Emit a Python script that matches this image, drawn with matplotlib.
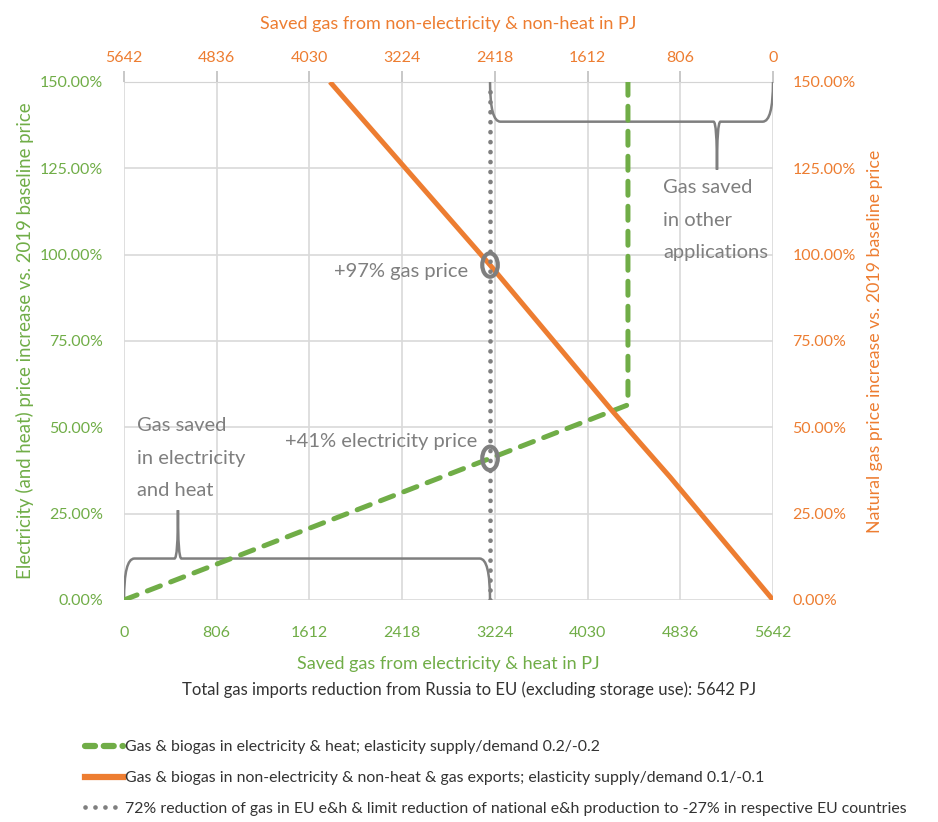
import matplotlib.pyplot as plt
import numpy as np
from matplotlib.path import Path
from matplotlib.patches import PathPatch, Ellipse
from matplotlib.ticker import PercentFormatter
from matplotlib.lines import Line2D

plt.rcParams['font.family'] = ['Lato', 'DejaVu Sans']

# --- data ---
total_pj = 5642
x_ticks = [0, 806, 1612, 2418, 3224, 4030, 4836, 5642]
y_ticks = [0, 25, 50, 75, 100, 125, 150]

elec_x = [0, 3182, 4381, 4381]
elec_y = [0, 41, 56.5, 150]

gas_x = [1791, 3182, 4251, 4486, 4747, 5642]
gas_y = [150, 97, 54.5, 45.5, 35.6, 0]

limit_x = 3182
gas_point = 97
elec_point = 41

labels = ["Gas & biogas in electricity & heat; elasticity supply/demand 0.2/-0.2",
          "Gas & biogas in non-electricity & non-heat & gas exports; elasticity supply/demand 0.1/-0.1",
          "72% reduction of gas in EU e&h & limit reduction of national e&h production to -27% in respective EU countries"]

green = '#70AD47'
orange = '#ED7D31'
grey = '#7F7F7F'

fig = plt.figure(figsize=(9.38, 8.22), dpi=100)
ax = fig.add_axes([0.1322, 0.2701, 0.6919, 0.6302])

ax.plot(elec_x, elec_y, color=green, lw=3.6, dashes=(2.8, 2.2), dash_capstyle='round', zorder=3)
ax.plot(gas_x, gas_y, color=orange, lw=3.6, solid_capstyle='butt', solid_joinstyle='round', zorder=3)
ax.plot([limit_x, limit_x], [0, 150], color=grey, lw=3.4, linestyle=(0, (0.01, 2.1)),
        dash_capstyle='round', zorder=4)

# circles at intersections
for yy in [gas_point, elec_point]:
    ax.add_patch(Ellipse((limit_x, yy), width=135, height=6.8, fill=False, ec=grey, lw=3.0, zorder=5))

# braces
def brace(x0, x1, xt, yb, yt, yend):
    verts = [(x0, yend), (x0, yb), (x0 + 90, yb), (xt - 30, yb), (xt, yb), (xt, yt),
             (xt, yb), (xt + 30, yb), (x1 - 90, yb), (x1, yb), (x1, yend)]
    codes = [Path.MOVETO, Path.CURVE3, Path.CURVE3, Path.LINETO, Path.CURVE3, Path.CURVE3,
             Path.CURVE3, Path.CURVE3, Path.LINETO, Path.CURVE3, Path.CURVE3]
    return Path(verts, codes)

ax.add_patch(PathPatch(brace(0, limit_x, 469, 12, 26, 0), fill=False, ec=grey, lw=1.8, zorder=2))
ax.add_patch(PathPatch(brace(limit_x, total_pj, 5155, 138.5, 124.6, 150), fill=False, ec=grey,
                       lw=1.8, zorder=2))

# annotations
ax.text(113, 41.1, "Gas saved\nin electricity\nand heat", color=grey, fontsize=14.5,
        va='center', ha='left', linespacing=2.1)
ax.text(4686, 110, "Gas saved\nin other\napplications", color=grey, fontsize=14.5,
        va='center', ha='left', linespacing=2.1)
ax.text(2990, 95.0, "+97% gas price", color=grey, fontsize=14.5, va='center', ha='right')
ax.text(3070, 46.0, "+41% electricity price", color=grey, fontsize=14.5, va='center', ha='right')

ax.set_xlim(0, total_pj)
ax.set_ylim(0, 150)
ax.set_xticks(x_ticks)
ax.set_yticks(y_ticks)
ax.yaxis.set_major_formatter(PercentFormatter(xmax=100, decimals=2))
ax.grid(True, color='#D9D9D9', lw=1.2)
ax.set_axisbelow(True)
for s in ax.spines.values():
    s.set_visible(False)
ax.tick_params(axis='both', length=0, labelsize=11.5, colors=green)
ax.tick_params(axis='y', pad=15)
ax.tick_params(axis='x', pad=19)
ax.set_xlabel("Saved gas from electricity & heat in PJ", color=green, fontsize=13, labelpad=11)
ax.set_ylabel("Electricity (and heat) price increase vs. 2019 baseline price", color=green,
              fontsize=13.4, labelpad=4)

# right axis
ax2 = ax.twinx()
ax2.set_ylim(0, 150)
ax2.set_yticks(y_ticks)
ax2.yaxis.set_major_formatter(PercentFormatter(xmax=100, decimals=2))
for s in ax2.spines.values():
    s.set_visible(False)
ax2.tick_params(axis='y', length=0, labelsize=11.5, colors=orange, pad=14)
ax2.set_ylabel("Natural gas price increase vs. 2019 baseline price", color=orange,
               fontsize=12.8, labelpad=8)

# top axis (reversed)
top = ax.secondary_xaxis('top', functions=(lambda v: total_pj - v, lambda v: total_pj - v))
top.set_xticks(x_ticks)
top.spines['top'].set_color('#BFBFBF')
top.tick_params(axis='x', length=8, width=1.2, color='#BFBFBF', labelsize=11.5,
                labelcolor=orange, pad=4)
top.set_xlabel("Saved gas from non-electricity & non-heat in PJ", color=orange,
               fontsize=13, labelpad=16)

fig.text(0.5, 0.161, "Total gas imports reduction from Russia to EU (excluding storage use): 5642 PJ",
         ha='center', va='center', fontsize=12, color='#333333')

handles = [
    Line2D([0], [0], color=green, lw=4.5, dashes=(1.6, 1.4), dash_capstyle='round'),
    Line2D([0], [0], color=orange, lw=4.5),
    Line2D([0], [0], color=grey, lw=3.4, linestyle=(0, (0.01, 2.1)), dash_capstyle='round'),
]
fig.legend(handles, labels, loc='upper left', bbox_to_anchor=(0.084, 0.107), frameon=False,
           fontsize=11.4, handlelength=2.4, handletextpad=0.12, labelspacing=1.05,
           labelcolor='#333333', borderaxespad=0)

fig.savefig('out.png', dpi=100)
